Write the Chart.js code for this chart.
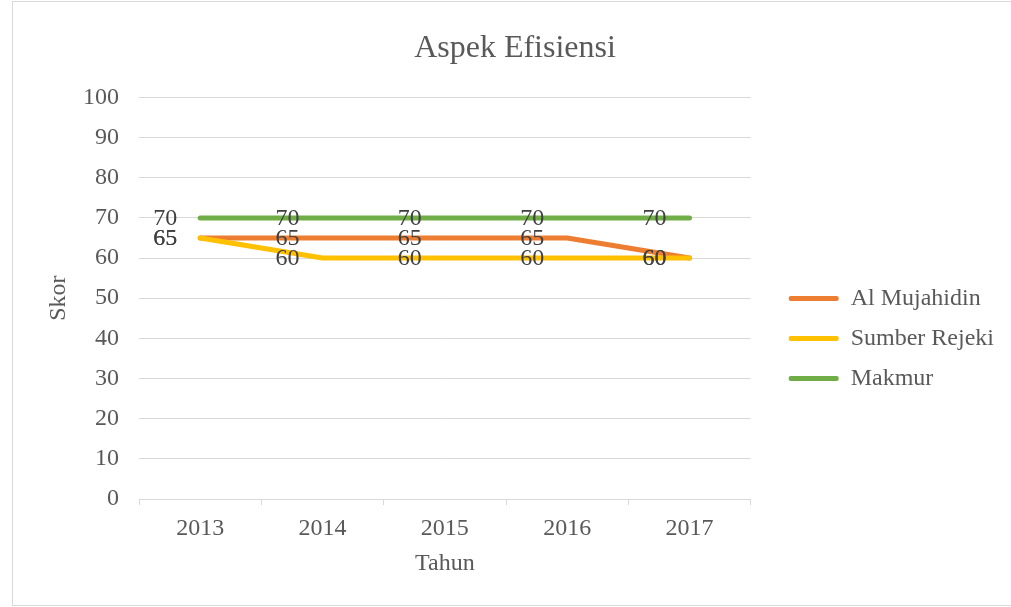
<!DOCTYPE html>
<html>
<head>
<meta charset="utf-8">
<script src="https://cdn.jsdelivr.net/npm/chart.js@4/dist/chart.umd.min.js"></script>
<style>
  html, body { margin: 0; padding: 0; background: #fff; }
  #frame { position: absolute; left: 12px; top: 1px; width: 1010px; height: 605px; border: 1px solid #d9d9d9; box-sizing: border-box; }
  #c { position: absolute; left: 1px; top: 1px; }
</style>
</head>
<body>
<div id="frame"><canvas id="c" width="998" height="603"></canvas></div>
<script>
const years = ['2013', '2014', '2015', '2016', '2017'];
const alMujahidin = [65, 65, 65, 65, 60];
const sumberRejeki = [65, 60, 60, 60, 60];
const makmur = [70, 70, 70, 70, 70];

const serif = "'Liberation Serif', 'Times New Roman', serif";
const grey = '#595959';
const gridGrey = '#d9d9d9';

// labels to the left of each point, like the office chart
const pointLabels = {
  id: 'pointLabels',
  afterDatasetsDraw(chart) {
    const ctx = chart.ctx;
    ctx.save();
    ctx.font = '24px ' + serif;
    ctx.fillStyle = '#404040';
    ctx.textAlign = 'right';
    ctx.textBaseline = 'middle';
    chart.data.datasets.forEach((ds, i) => {
      const meta = chart.getDatasetMeta(i);
      meta.data.forEach((pt, j) => {
        ctx.fillText(String(ds.data[j]), pt.x - 23, pt.y + 1);
      });
    });
    ctx.restore();
  }
};

// nudge the legend away from the plot, and the title back to the middle
const legendShift = {
  id: 'legendShift',
  afterLayout(chart) {
    const lg = chart.legend;
    lg.left += 22; lg.right += 22;
    lg.top += 34; lg.bottom += 34;
    const t = chart.titleBlock;
    t.left += 17; t.right += 17;
  }
};

const ctx = document.getElementById('c').getContext('2d');
const chart = new Chart(ctx, {
  type: 'line',
  data: {
    labels: years,
    datasets: [
      { label: 'Al Mujahidin', data: alMujahidin, borderColor: '#ED7D31', backgroundColor: '#ED7D31', order: 3 },
      { label: 'Sumber Rejeki', data: sumberRejeki, borderColor: '#FFC000', backgroundColor: '#FFC000', order: 2 },
      { label: 'Makmur', data: makmur, borderColor: '#70AD47', backgroundColor: '#70AD47', order: 1 }
    ]
  },
  options: {
    responsive: false,
    animation: false,
    layout: { padding: { left: 0, right: 30, top: 0, bottom: 0 } },
    elements: {
      line: { borderWidth: 5, tension: 0, borderCapStyle: 'round', borderJoinStyle: 'round' },
      point: { radius: 0, hoverRadius: 0 }
    },
    plugins: {
      title: {
        display: true,
        text: 'Aspek Efisiensi',
        color: grey,
        font: { family: serif, size: 32, weight: 'normal' },
        padding: { top: 26, bottom: 30 }
      },
      legend: {
        position: 'right',
        labels: {
          color: grey,
          font: { family: serif, size: 24 },
          boxWidth: 50,
          boxHeight: 5,
          padding: 16,
          useBorderRadius: true,
          borderRadius: 2,
          sort: (a, b) => a.datasetIndex - b.datasetIndex,
          generateLabels(chart) {
            const items = Chart.defaults.plugins.legend.labels.generateLabels(chart);
            items.forEach(it => { it.lineWidth = 0; });
            return items;
          }
        }
      },
      tooltip: { enabled: false }
    },
    scales: {
      x: {
        offset: true,
        grid: { offset: true, drawOnChartArea: false, drawTicks: true, tickLength: 6, color: gridGrey },
        border: { display: true, color: gridGrey, width: 1 },
        ticks: { color: grey, font: { family: serif, size: 24 }, padding: 9 },
        title: { display: true, text: 'Tahun', color: grey, font: { family: serif, size: 24 }, padding: { top: 0, bottom: 28 } },
        afterFit(scale) { scale.height = 107; }
      },
      y: {
        min: 0,
        max: 100,
        ticks: { stepSize: 10, color: grey, font: { family: serif, size: 24 }, padding: 20 },
        grid: { color: gridGrey, drawTicks: false },
        border: { display: false },
        title: { display: true, text: 'Skor', color: grey, font: { family: serif, size: 24 }, padding: { top: 30, bottom: 0 } },
        afterFit(scale) { scale.width = 125; }
      }
    }
  },
  plugins: [pointLabels, legendShift]
});
</script>
</body>
</html>
